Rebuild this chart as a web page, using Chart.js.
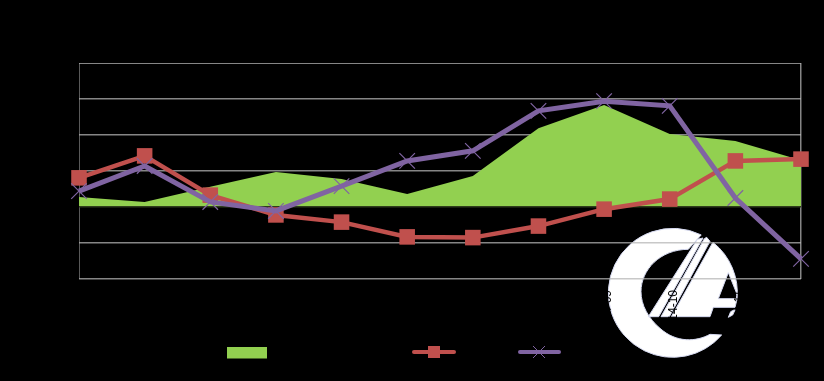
<!DOCTYPE html>
<html><head><meta charset="utf-8">
<style>html,body{margin:0;padding:0;background:#000}canvas{display:block}</style>
<script src="https://cdn.jsdelivr.net/npm/chart.js@4"></script>
</head><body><canvas id="c" width="824" height="381"></canvas>
<script>
const categories = ['2014-01','2014-02','2014-03','2014-04','2014-05','2014-06','2014-07','2014-08','2014-09','2014-10','2014-11','2014-12'];
const seriesNames = ['Series 1','Series 2','Series 3'];
const areaValues = [2.8,1.4,5.6,9.7,7.8,3.6,8.6,21.9,28.3,20.3,18.3,13];
const redValues = [8.1,14.2,3.3,-2.2,-4.2,-8.3,-8.5,-5.3,-0.6,2.2,12.8,13.3];
const purpleValues = [4.4,11.4,1.4,-1.1,5.8,12.8,15.6,26.7,29.4,28.1,2.5,-14.4];
const GREEN='#92D050', RED='#C0504D', PURPLE='#8064A2';
const GRID='rgba(181,181,181,0.74)';

const logoPlugin = {
  id:'logo',
  beforeDraw(chart){
    const c=chart.ctx; c.save();
    c.fillStyle='#000'; c.fillRect(0,0,chart.width,chart.height);
    c.translate(580,210); c.scale(1/3,1/3);
    c.fillStyle='#fff'; c.strokeStyle='#d5d9f0'; c.lineWidth=3; c.lineJoin='round';
    const cx=278.5, cy=248.5, r=193.5, rad=d=>d*Math.PI/180;
    const shape=(fn,rule)=>{c.beginPath();fn();c.closePath();c.fill(rule||'nonzero');c.stroke();};
    shape(()=>{c.arc(cx,cy,r,rad(-63.9),rad(40.8),true);
      c.lineTo(390,373);
      c.bezierCurveTo(350,395,290,400,240,355);
      c.bezierCurveTo(205,325,183,285,183,245);
      c.bezierCurveTo(183,180,240,118,325,118);});
    shape(()=>{c.moveTo(352,88);c.lineTo(369,84);c.lineTo(236,320);c.lineTo(205,320);});
    shape(()=>{c.moveTo(373,86);c.lineTo(380,82);c.lineTo(390,94);c.lineTo(268,320);c.lineTo(243,320);});
    shape(()=>{c.arc(cx,cy,r,rad(-51.4),rad(5.8),false);
      c.lineTo(465,292);c.lineTo(400,292);c.lineTo(390,320);c.lineTo(274,320);c.lineTo(397,100);
      c.closePath();
      c.moveTo(445,188);c.lineTo(470,250);c.lineTo(470,266);c.lineTo(415,266);},'evenodd');
    shape(()=>{c.moveTo(445,322);c.lineTo(452,305);c.lineTo(466,298);c.lineTo(458,315);});
    c.restore();
  }
};

const zeroLinePlugin = {
  id:'zeroLine',
  afterDatasetDraw(chart,args){
    if(args.index!==0) return;
    const c=chart.ctx, a=chart.chartArea, y=chart.scales.y.getPixelForValue(0);
    c.save(); c.fillStyle='#2f3d1c'; c.fillRect(a.left,y-1,a.right-a.left,1.5); c.restore();
  }
};

const legendPlugin = {
  id:'keyLegend',
  afterDraw(chart){
    const c=chart.ctx, y=352; c.save();
    const ds=chart.data.datasets;
    c.fillStyle=ds[0].backgroundColor; c.fillRect(227,347,40,11.5);
    c.lineCap='round';
    c.strokeStyle=ds[1].borderColor; c.lineWidth=4;
    c.beginPath();c.moveTo(414,y);c.lineTo(454,y);c.stroke();
    c.fillStyle=ds[1].borderColor; c.fillRect(428,346,12,12);
    c.strokeStyle=ds[2].borderColor; c.lineWidth=4;
    c.beginPath();c.moveTo(520,y);c.lineTo(559,y);c.stroke();
    c.lineWidth=1; c.lineCap='butt';
    c.beginPath();c.moveTo(533,346);c.lineTo(545,358);c.moveTo(545,346);c.lineTo(533,358);c.stroke();
    c.fillStyle='#000'; c.font='12px "Liberation Sans"'; c.textBaseline='middle';
    c.fillText(seriesNames[0],272,y);c.fillText(seriesNames[1],459,y);c.fillText(seriesNames[2],564,y);
    c.restore();
  }
};

new Chart(document.getElementById('c'),{
  type:'line',
  data:{labels:categories,datasets:[
    {label:seriesNames[0],data:areaValues,order:3,borderWidth:0,borderColor:GREEN,backgroundColor:GREEN,fill:'origin',pointRadius:0,tension:0,clip:false},
    {label:seriesNames[1],data:redValues,order:2,borderWidth:4.5,borderColor:RED,backgroundColor:RED,pointStyle:'rect',pointRadius:11,pointBackgroundColor:RED,pointBorderColor:RED,pointBorderWidth:0,tension:0,clip:false},
    {label:seriesNames[2],data:purpleValues,order:1,borderWidth:5,borderColor:PURPLE,backgroundColor:PURPLE,pointStyle:'crossRot',pointRadius:11,pointBorderColor:PURPLE,pointBorderWidth:1.2,tension:0,clip:false}
  ]},
  options:{
    responsive:false,animation:false,
    layout:{padding:{top:63,right:23,left:0,bottom:0}},
    plugins:{legend:{display:false},title:{display:false},tooltip:{enabled:false}},
    scales:{
      x:{offset:false,
        afterFit(s){s.height=102;s.paddingRight=0;},
        border:{display:false},
        grid:{drawTicks:false,drawOnChartArea:true,lineWidth:ctx=>ctx.index===0?1:1.5,
          color:ctx=>ctx.index===0?'#595959':(ctx.index===categories.length-1?GRID:'rgba(0,0,0,0)')},
        ticks:{color:'#000',minRotation:90,maxRotation:90,padding:11,labelOffset:4,autoSkip:false,font:{family:'Liberation Sans',size:12}}},
      y:{min:-20,max:40,
        afterFit(s){s.width=79;},
        border:{display:false},
        grid:{drawTicks:false,lineWidth:ctx=>ctx.tick&&ctx.tick.value===40?1:1.5,color:ctx=>ctx.tick&&ctx.tick.value===0?'rgba(0,0,0,0)':GRID},
        ticks:{stepSize:10,color:'#000',padding:8,font:{family:'Liberation Sans',size:11}}}
    }
  },
  plugins:[logoPlugin,zeroLinePlugin,legendPlugin]
});
</script></body></html>
